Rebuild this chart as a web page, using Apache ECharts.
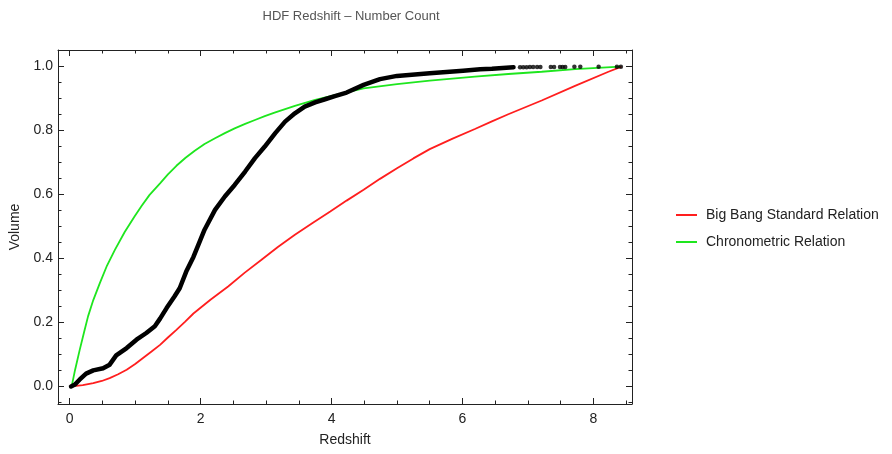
<!DOCTYPE html>
<html><head><meta charset="utf-8">
<script src="https://cdn.jsdelivr.net/npm/echarts@6/dist/echarts.min.js"></script>
<style>html,body{margin:0;padding:0;background:#fff}#c{width:892px;height:454px}</style>
</head><body><div id="c"></div>
<script>
const chartTitle = 'HDF Redshift – Number Count';
const xName = 'Redshift';
const yName = 'Volume';
const redName = 'Big Bang Standard Relation';
const greenName = 'Chronometric Relation';

const xMajorTicks = [0, 2, 4, 6, 8];
const xMinorTicks = [0.5, 1, 1.5, 2.5, 3, 3.5, 4.5, 5, 5.5, 6.5, 7, 7.5, 8.5];
const yMajorTicks = [0, 0.2, 0.4, 0.6, 0.8, 1.0];
const yMinorTicks = [-0.05, 0.05, 0.1, 0.15, 0.25, 0.3, 0.35, 0.45, 0.5, 0.55, 0.65, 0.7, 0.75, 0.85, 0.9, 0.95, 1.05];

const blackZ = [0.02,0.08,0.15,0.25,0.36,0.51,0.61,0.71,0.87,1.02,1.17,1.30,1.38,1.48,1.60,1.68,1.78,1.89,1.99,2.06,2.22,2.37,2.52,2.68,2.83,2.98,3.14,3.29,3.44,3.59,3.75,3.90,4.05,4.23,4.49,4.74,5.00,5.50,6.01,6.27,6.45,6.78];
const blackV = [0.0,0.006,0.021,0.040,0.050,0.057,0.068,0.097,0.120,0.146,0.167,0.188,0.212,0.245,0.281,0.307,0.359,0.405,0.455,0.490,0.552,0.594,0.630,0.672,0.714,0.750,0.792,0.828,0.854,0.875,0.888,0.898,0.908,0.919,0.943,0.961,0.971,0.979,0.987,0.992,0.993,0.998];
const tailZ = [6.88,6.93,6.98,7.03,7.08,7.14,7.19,7.35,7.40,7.49,7.53,7.57,7.71,7.80,8.08,8.36,8.42];
const tailV = [0.998,0.998,0.998,0.999,0.999,0.999,0.999,0.999,0.999,0.999,0.999,0.999,1.0,1.0,1.0,1.0,1.0];

const greenZ = [0.03,0.08,0.15,0.22,0.28,0.36,0.46,0.57,0.69,0.84,0.99,1.10,1.22,1.38,1.50,1.63,1.77,1.91,2.06,2.22,2.37,2.52,2.68,2.83,2.98,3.13,3.44,3.75,4.05,4.49,5.00,5.50,6.19,6.70,7.21,7.72,8.41];
const greenV = [0,0.05,0.112,0.17,0.219,0.270,0.323,0.378,0.427,0.483,0.531,0.565,0.599,0.635,0.663,0.690,0.715,0.737,0.758,0.776,0.792,0.807,0.821,0.833,0.845,0.856,0.877,0.896,0.911,0.932,0.945,0.956,0.969,0.977,0.984,0.992,1.0];

const redZ = [0.03,0.20,0.36,0.49,0.61,0.74,0.87,1.00,1.12,1.25,1.38,1.50,1.63,1.76,1.89,2.15,2.42,2.67,2.93,3.18,3.44,3.71,3.98,4.23,4.49,4.74,5.00,5.25,5.50,5.85,6.19,6.45,6.70,7.21,7.72,8.23,8.43];
const redV = [0,0.004,0.010,0.017,0.026,0.038,0.052,0.070,0.089,0.109,0.130,0.153,0.177,0.202,0.228,0.271,0.3125,0.355,0.396,0.436,0.474,0.511,0.547,0.581,0.615,0.649,0.6825,0.713,0.742,0.775,0.805,0.829,0.851,0.894,0.94,0.984,1.0];

const zip = (a, b) => a.map((v, i) => [v, b[i]]);
const FONT = '"Liberation Sans", Arial, Helvetica, sans-serif';
const AX = '#222';
const X_MIN = -0.179, X_MAX = 8.59, Y_MIN = -0.055, Y_MAX = 1.052;

function xAx(pos, ticks, len, line, labels) {
  const o = {
    type: 'value', position: pos, min: X_MIN, max: X_MAX,
    axisLine: { show: line, onZero: false, lineStyle: { color: AX, width: 1 } },
    axisTick: { show: true, inside: true, length: len, customValues: ticks, lineStyle: { color: AX, width: 1 } },
    axisLabel: { show: labels, customValues: ticks, fontSize: 14, color: AX, fontFamily: FONT, margin: 8, formatter: v => String(v) },
    splitLine: { show: false }, minorTick: { show: false }
  };
  if (labels) {
    o.name = xName; o.nameLocation = 'middle'; o.nameGap = 29;
    o.nameTextStyle = { fontSize: 14, color: AX, fontFamily: FONT };
  }
  return o;
}
function yAx(pos, ticks, len, line, labels) {
  const o = {
    type: 'value', position: pos, min: Y_MIN, max: Y_MAX,
    axisLine: { show: line, onZero: false, lineStyle: { color: AX, width: 1 } },
    axisTick: { show: true, inside: true, length: len, customValues: ticks, lineStyle: { color: AX, width: 1 } },
    axisLabel: { show: labels, customValues: ticks, fontSize: 14, color: AX, fontFamily: FONT, margin: 5, formatter: v => v.toFixed(1) },
    splitLine: { show: false }, minorTick: { show: false }
  };
  if (labels) {
    o.name = yName; o.nameLocation = 'middle'; o.nameGap = 34;
    o.nameTextStyle = { fontSize: 14, color: AX, fontFamily: FONT };
  }
  return o;
}

const chart = echarts.init(document.getElementById('c'), null, { renderer: 'canvas' });
chart.setOption({
  animation: false,
  backgroundColor: '#fff',
  title: {
    text: chartTitle, left: 346, top: 5, textAlign: 'center',
    textStyle: { fontSize: 13, fontWeight: 'normal', color: '#555', fontFamily: FONT }
  },
  grid: { left: 58, right: 260, top: 50, bottom: 50 },
  xAxis: [
    xAx('bottom', xMajorTicks, 6, true, true),
    xAx('bottom', xMinorTicks, 3.5, false, false),
    xAx('top', xMajorTicks, 6, true, false),
    xAx('top', xMinorTicks, 3.5, false, false)
  ],
  yAxis: [
    yAx('left', yMajorTicks, 6, true, true),
    yAx('left', yMinorTicks, 3.5, false, false),
    yAx('right', yMajorTicks, 6, true, false),
    yAx('right', yMinorTicks, 3.5, false, false)
  ],
  legend: {
    orient: 'vertical', left: 671, top: 203, itemWidth: 21, itemHeight: 2, itemGap: 13,
    icon: 'rect',
    textStyle: { fontSize: 14, color: AX, fontFamily: FONT, padding: [0, 0, 0, 4] },
    data: [redName, greenName]
  },
  series: [
    { name: redName, type: 'line', data: zip(redZ, redV), showSymbol: false, smooth: false,
      lineStyle: { color: '#ff1e1e', width: 1.8 }, itemStyle: { color: '#ff1e1e' }, z: 3 },
    { name: greenName, type: 'line', data: zip(greenZ, greenV), showSymbol: false, smooth: false,
      lineStyle: { color: '#1ee61e', width: 1.8 }, itemStyle: { color: '#1ee61e' }, z: 3 },
    { name: 'HDF', type: 'line', data: zip(blackZ, blackV), showSymbol: false, smooth: false,
      lineStyle: { color: '#000', width: 4.5, join: 'round', cap: 'round' }, itemStyle: { color: '#000' }, z: 4 },
    { name: 'HDF tail', type: 'scatter', data: zip(tailZ, tailV), symbol: 'circle', symbolSize: 4.5,
      itemStyle: { color: '#000' }, z: 4 }
  ]
});
</script>
</body></html>
